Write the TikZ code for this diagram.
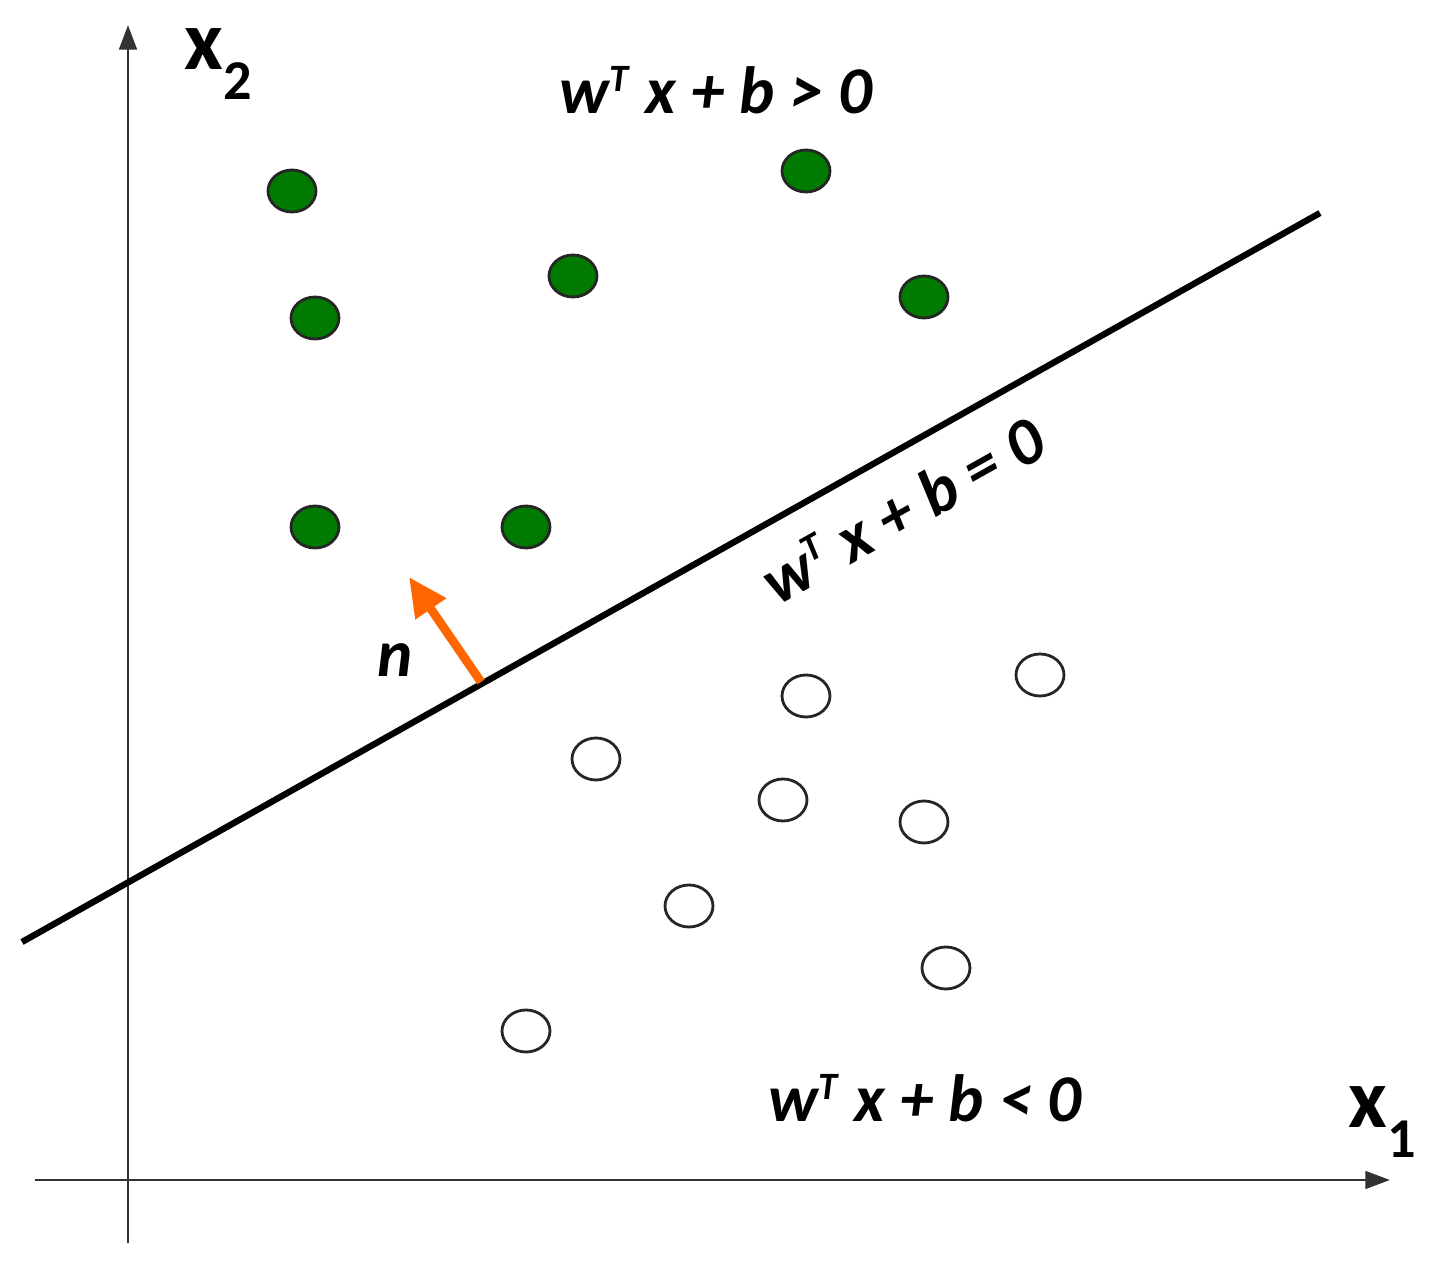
\documentclass[tikz,border=0pt]{standalone}
\usepackage{fontspec}
\setmainfont{Carlito}
\usetikzlibrary{arrows.meta}
\definecolor{dotgreen}{RGB}{0,122,0}
\definecolor{arrorange}{RGB}{255,102,0}
\definecolor{axisgray}{RGB}{50,50,50}
\newcommand{\supT}{\textsuperscript{\fontsize{11}{11}\selectfont T}}
\begin{document}
\begin{tikzpicture}[x=0.01cm,y=-0.01cm,
  posdot/.style={draw=black!85,fill=dotgreen,line width=0.8pt},
  negdot/.style={draw=black!85,fill=white,line width=0.8pt},
  axis/.style={draw=axisgray,line width=0.85pt,-{Triangle[length=7pt,width=5pt]}},
  lbl/.style={font=\fontsize{19}{21}\selectfont\bfseries\itshape,inner sep=0pt},
  axlbl/.style={font=\fontsize{24}{26}\selectfont\bfseries,inner sep=0pt}]
\useasboundingbox (0,0) rectangle (1450,1279);
% axes
\coordinate (yb) at (128,1243);
\coordinate (yt) at (128,25);
\coordinate (xl) at (35,1180);
\coordinate (xr) at (1390,1180);
\draw[axis] (yb) -- (yt);
\draw[axis] (xl) -- (xr);
\node[axlbl] (x2) at (218,64) {x\raisebox{-0.35em}{\fontsize{16}{18}\selectfont 2}};
\node[axlbl] (x1) at (1382,1122) {x\raisebox{-0.35em}{\fontsize{16}{18}\selectfont 1}};
% separating line
\coordinate (la) at (22,942);
\coordinate (lb) at (1320,213);
\draw[line width=1.8pt,black] (la) -- (lb);
% normal arrow
\coordinate (na) at (481,682);
\coordinate (nb) at (409,577);
\draw[arrorange,line width=2.5pt,-{Triangle[length=11pt,width=10pt]}] (na) -- (nb);
\node[lbl] (n) at (395,660) {n};
% labels
\node[lbl] (gt) at (716,90) {w\supT\ x + b > 0};
\node[lbl] (lt) at (925,1098) {w\supT\ x + b < 0};
\node[lbl,rotate=29.3] (eq) at (902,510) {w\supT\ x + b = 0};
% positive points
\foreach \n/\px/\py in {p1/292/191,p2/806/171,p3/573/276,p4/315/318,p5/924/297,p6/315/527,p7/526/527}
  \path[posdot] (\px,\py) ellipse [x radius=24, y radius=21] coordinate (\n);
% negative points
\foreach \n/\px/\py in {q1/1040/675,q2/806/696,q3/596/759,q4/783/800,q5/924/822,q6/689/906,q7/946/968,q8/526/1031}
  \path[negdot] (\px,\py) ellipse [x radius=24, y radius=21] coordinate (\n);
\end{tikzpicture}
\end{document}
